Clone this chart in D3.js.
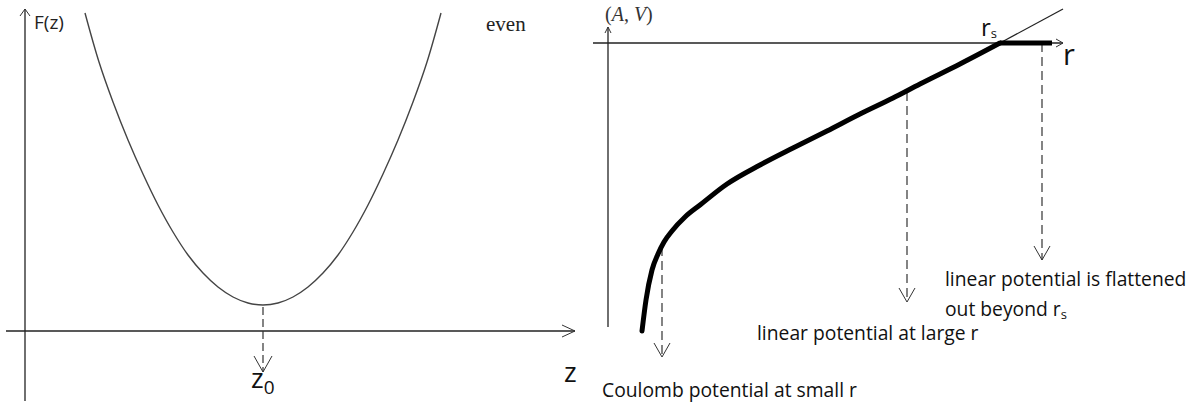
<!DOCTYPE html>
<html lang="en">
<head>
  <meta charset="UTF-8">
  <title>F(z) and potential sketch</title>
  <script src="https://cdn.jsdelivr.net/npm/d3@7"></script>
  <style>
    body { margin: 0; background: #fff; }
  </style>
</head>
<body>

  <div id="container"></div>

  <script>
    // left panel: the even function F(z)
    const zValues = [0.60, 0.74, 0.88, 1.03, 1.18, 1.33, 1.48, 1.63, 1.78, 1.93, 2.08, 2.23, 2.38,
                     2.53, 2.68, 2.83, 2.98, 3.13, 3.28, 3.43, 3.58, 3.73, 3.88, 4.02, 4.16];
    const fValues = [3.18, 2.69, 2.29, 1.91, 1.57, 1.26, 0.99, 0.76, 0.58, 0.44, 0.34, 0.28, 0.26,
                     0.28, 0.34, 0.44, 0.58, 0.76, 0.99, 1.26, 1.57, 1.91, 2.29, 2.69, 3.18];
    const z0 = 2.38;
    const fMin = 0.26;

    // right panel: the potential V(r)
    const rValues = [0.34, 0.38, 0.44, 0.50, 0.56, 0.64, 0.77, 0.92, 1.19, 1.52, 1.85, 2.19, 2.52, 2.85, 3.12, 3.52, 3.92];
    const vValues = [-2.88, -2.57, -2.27, -2.11, -1.99, -1.88, -1.74, -1.62, -1.41, -1.22, -1.05, -0.88, -0.71, -0.55, -0.41, -0.21, 0];
    const rS = 3.92;         // screening radius
    const rFlatEnd = 4.44;   // flat part ends here
    const lineExt = [[3.92, 0], [4.55, 0.34]]; // linear part continued past r_s

    // markers with dashed arrows
    const markers = [
      { r: 0.54, from: -2.04, to: -3.14 },   // Coulomb
      { r: 2.99, from: -0.49, to: -2.59 },   // linear
      { r: 4.34, from: 0, to: -2.17 }        // flattened
    ];

    const labels = [
      { text: "linear potential is flattened", x: 945, y: 286 },
      { text: "out beyond r", sub: "s", x: 945, y: 316 },
      { text: "linear potential at large r", x: 757, y: 340 },
      { text: "Coulomb potential at small r", x: 602, y: 397 }
    ];

    const width = 1201;
    const height = 402;
    const sans = "'Open Sans', 'Noto Sans', sans-serif";
    const serif = "'Liberation Serif', 'DejaVu Serif', serif";

    const svg = d3.select("#container")
      .append("svg")
      .attr("width", width)
      .attr("height", height)
      .attr("viewBox", [0, 0, width, height]);

    // open arrow tip, tip at (x,y)
    function chevron(g, x, y, dir, len, spread, color, sw) {
      let p;
      if (dir === "up") p = `M${x - spread},${y + len}L${x},${y}L${x + spread},${y + len}`;
      if (dir === "down") p = `M${x - spread},${y - len}L${x},${y}L${x + spread},${y - len}`;
      if (dir === "right") p = `M${x - len},${y - spread}L${x},${y}L${x - len},${y + spread}`;
      g.append("path").attr("d", p).attr("fill", "none")
        .attr("stroke", color).attr("stroke-width", sw);
    }

    // ---------- left panel ----------
    const xL = d3.scaleLinear().domain([0, 5.5]).range([25, 575]);
    const yL = d3.scaleLinear().domain([0, 3.18]).range([331, 13]);

    const left = svg.append("g");

    // axes
    left.append("line")
      .attr("x1", xL(0)).attr("x2", xL(0))
      .attr("y1", yL(-0.70)).attr("y2", yL(3.22))
      .attr("stroke", "#222").attr("stroke-width", 1.3);
    chevron(left, xL(0), yL(3.22), "up", 7, 5, "#333", 1);

    left.append("line")
      .attr("x1", xL(-0.19)).attr("x2", xL(5.5))
      .attr("y1", yL(0)).attr("y2", yL(0))
      .attr("stroke", "#222").attr("stroke-width", 1.3);
    chevron(left, xL(5.5), yL(0), "right", 13, 6, "#333", 1);

    const curveL = d3.line()
      .x((d, i) => xL(zValues[i]))
      .y((d, i) => yL(fValues[i]))
      .curve(d3.curveCatmullRom);

    left.append("path")
      .attr("d", curveL(zValues))
      .attr("fill", "none")
      .attr("stroke", "#444")
      .attr("stroke-width", 1.4);

    // dashed drop from minimum
    left.append("line")
      .attr("x1", xL(z0)).attr("x2", xL(z0))
      .attr("y1", yL(fMin) + 2).attr("y2", yL(-0.41))
      .attr("stroke", "#333").attr("stroke-width", 1.2)
      .attr("stroke-dasharray", "8,4");
    chevron(left, xL(z0), yL(-0.41), "down", 16, 9, "#333", 1);

    left.append("text")
      .attr("x", 34).attr("y", 29)
      .attr("font-family", sans).attr("font-size", 19).attr("fill", "#222")
      .text("F(z)");

    left.append("text")
      .attr("x", 486).attr("y", 31)
      .attr("font-family", serif).attr("font-size", 21).attr("fill", "#222")
      .text("even");

    const z0Label = left.append("text")
      .attr("x", xL(z0) - 12).attr("y", 388)
      .attr("font-family", sans).attr("font-size", 27).attr("fill", "#111");
    z0Label.append("tspan").text("z");
    z0Label.append("tspan").attr("dy", 6).attr("font-size", 19).text("0");

    left.append("text")
      .attr("x", 564).attr("y", 382)
      .attr("font-family", sans).attr("font-size", 27).attr("fill", "#111")
      .text("z");

    // ---------- right panel ----------
    const xR = d3.scaleLinear().domain([0, 4.55]).range([608, 1063]);
    const yR = d3.scaleLinear().domain([0, -2.88]).range([43, 331]);

    const right = svg.append("g");

    right.append("line")
      .attr("x1", xR(0)).attr("x2", xR(0))
      .attr("y1", yR(0.16)).attr("y2", yR(-2.84))
      .attr("stroke", "#222").attr("stroke-width", 1.3);
    chevron(right, xR(0), yR(0.16), "up", 6, 3, "#333", 1);

    right.append("line")
      .attr("x1", xR(-0.15)).attr("x2", xR(4.55))
      .attr("y1", yR(0)).attr("y2", yR(0))
      .attr("stroke", "#222").attr("stroke-width", 1.3);
    chevron(right, xR(4.55), yR(0), "right", 7, 4, "#333", 1);

    // thin continuation of the linear potential
    right.append("line")
      .attr("x1", xR(lineExt[0][0])).attr("y1", yR(lineExt[0][1]))
      .attr("x2", xR(lineExt[1][0])).attr("y2", yR(lineExt[1][1]))
      .attr("stroke", "#222").attr("stroke-width", 1.3);

    // dashed markers
    markers.forEach(m => {
      right.append("line")
        .attr("x1", xR(m.r)).attr("x2", xR(m.r))
        .attr("y1", yR(m.from)).attr("y2", yR(m.to))
        .attr("stroke", "#333").attr("stroke-width", 1.2)
        .attr("stroke-dasharray", "9,5");
      chevron(right, xR(m.r), yR(m.to), "down", 14, 8, "#333", 1);
    });

    const curveR = d3.line()
      .x((d, i) => xR(rValues[i]))
      .y((d, i) => yR(vValues[i]))
      .curve(d3.curveMonotoneX);

    right.append("path")
      .attr("d", curveR(rValues))
      .attr("fill", "none")
      .attr("stroke", "#000")
      .attr("stroke-width", 5)
      .attr("stroke-linecap", "round")
      .attr("stroke-linejoin", "round");

    right.append("line")
      .attr("x1", xR(rS)).attr("x2", xR(rFlatEnd))
      .attr("y1", yR(0)).attr("y2", yR(0))
      .attr("stroke", "#000").attr("stroke-width", 5);

    // axis label (A, V)
    const av = right.append("text")
      .attr("x", 605).attr("y", 21)
      .attr("font-family", serif).attr("font-size", 20).attr("fill", "#333");
    av.append("tspan").text("(");
    av.append("tspan").attr("font-style", "italic").text("A");
    av.append("tspan").text(", ");
    av.append("tspan").attr("font-style", "italic").text("V");
    av.append("tspan").text(")");

    const rsLabel = right.append("text")
      .attr("x", 981).attr("y", 36)
      .attr("font-family", sans).attr("font-size", 24).attr("fill", "#111");
    rsLabel.append("tspan").text("r");
    rsLabel.append("tspan").attr("dy", 2).attr("font-size", 13).text("s");

    right.append("text")
      .attr("x", 1063).attr("y", 65)
      .attr("font-family", sans).attr("font-size", 29).attr("fill", "#111")
      .text("r");

    labels.forEach(l => {
      const t = right.append("text")
        .attr("x", l.x).attr("y", l.y)
        .attr("font-family", sans).attr("font-size", 19.3).attr("fill", "#111");
      t.append("tspan").text(l.text);
      if (l.sub) t.append("tspan").attr("dy", 3).attr("font-size", 13).text(l.sub);
    });
  </script>

</body>
</html>
